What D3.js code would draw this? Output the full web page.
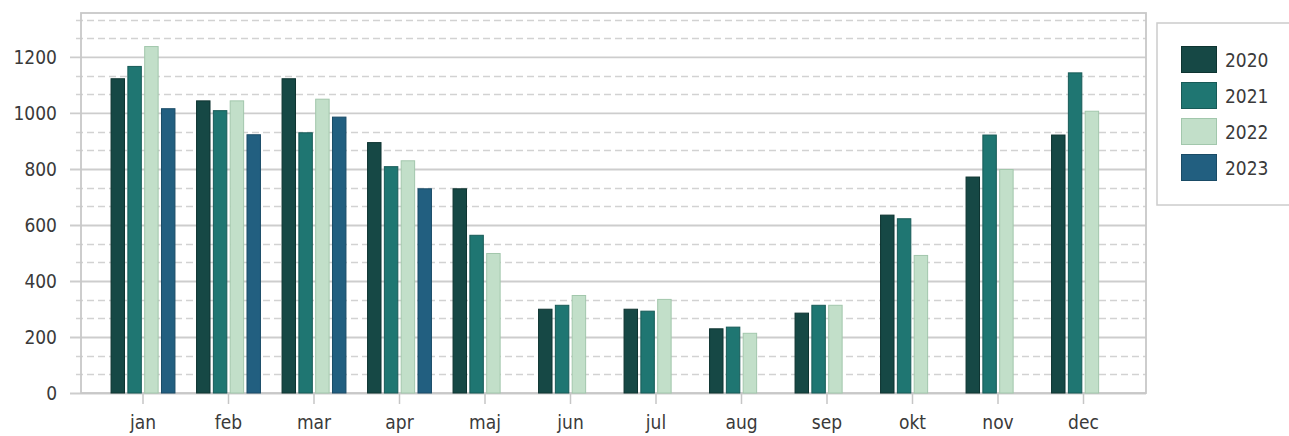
<!DOCTYPE html>
<html>
<head>
<meta charset="utf-8">
<script src="https://cdn.jsdelivr.net/npm/d3@7"></script>
<style>
  html, body { margin: 0; padding: 0; background: #ffffff; }
  svg { display: block; }
  text { font-family: "DejaVu Sans Condensed", "DejaVu Sans", sans-serif; fill: #3a3a3a; }
</style>
</head>
<body>
<svg id="chart" width="1289" height="436"></svg>
<script>
const months = ["jan","feb","mar","apr","maj","jun","jul","aug","sep","okt","nov","dec"];
const years = ["2020","2021","2022","2023"];
const v2020 = [1124, 1045, 1124, 896, 731, 301, 301, 231, 287, 637, 773, 923];
const v2021 = [1168, 1010, 931, 810, 565, 315, 294, 237, 315, 624, 923, 1145];
const v2022 = [1239, 1045, 1051, 831, 500, 350, 336, 215, 315, 493, 800, 1008];
const v2023 = [1017, 924, 987, 731, null, null, null, null, null, null, null, null];
const yTicks = [0, 200, 400, 600, 800, 1000, 1200];
const yMinor = [66.67, 133.33, 266.67, 333.33, 466.67, 533.33, 666.67, 733.33, 866.67, 933.33, 1066.67, 1133.33, 1266.67, 1333.33];

const seriesValues = [v2020, v2021, v2022, v2023];
const fills = ["#164845", "#1f7672", "#c2dfc9", "#225f80"];
const strokes = ["#0e3431", "#175a57", "#a2c7ac", "#1a4b66"];

const svg = d3.select("#chart");
const pLeft = 81, pRight = 1146, pTop = 13, pBottom = 393;

const y = d3.scaleLinear().domain([0, 1357]).range([pBottom, pTop]);
const x0 = d3.scaleBand().domain(months).range([100.25, 1126.25]).paddingInner(0).paddingOuter(0);
const groupW = 64.9;
const x1 = d3.scaleBand().domain(years).range([0, groupW]).paddingInner(0.14).paddingOuter(0);
const gOff = x0.bandwidth() / 2 - groupW / 2;

// minor dashed gridlines
svg.append("g").selectAll("line").data(yMinor).join("line")
  .attr("x1", 76).attr("x2", pRight)
  .attr("y1", d => Math.round(y(d)) + 0.5).attr("y2", d => Math.round(y(d)) + 0.5)
  .attr("stroke", "#d2d2d2").attr("stroke-width", 1.6).attr("stroke-dasharray", "7,4");

// major gridlines + y axis ticks via d3 axis
const yAxis = d3.axisLeft(y).tickValues(yTicks).tickSize(-(pRight - 70)).tickFormat(d3.format("d"));
const gy = svg.append("g").attr("transform", `translate(70,0)`).call(yAxis);
gy.select(".domain").remove();
gy.selectAll(".tick line").attr("stroke", "#cdcdcd").attr("stroke-width", 1.8);
gy.selectAll(".tick text").remove();
const gyl = svg.append("g").attr("transform", `translate(${pLeft},0)`)
  .call(d3.axisLeft(y).tickValues(yTicks).tickSize(0).tickPadding(24).tickFormat(d3.format("d")));
gyl.select(".domain").remove();
gyl.selectAll(".tick text").attr("font-size", 19).attr("fill", "#3a3a3a");

// frame
svg.append("rect").attr("x", pLeft).attr("y", pTop).attr("width", pRight - pLeft).attr("height", pBottom - pTop)
  .attr("fill", "none").attr("stroke", "#c8c8c8").attr("stroke-width", 1.8);

// bars
const groups = svg.append("g").selectAll("g").data(months).join("g")
  .attr("transform", m => `translate(${x0(m) + gOff},0)`);
groups.selectAll("rect")
  .data((m, i) => years.map((yr, s) => ({ yr, s, v: seriesValues[s][i] })).filter(d => d.v != null))
  .join("rect")
  .attr("x", d => x1(d.yr) + 0.5)
  .attr("width", x1.bandwidth() - 1)
  .attr("y", d => y(d.v) + 0.5)
  .attr("height", d => y(0) - y(d.v) - 0.5)
  .attr("fill", d => fills[d.s])
  .attr("stroke", d => strokes[d.s])
  .attr("stroke-width", 1);

// x axis
const xAxis = d3.axisBottom(x0).tickSize(11).tickPadding(12);
const gx = svg.append("g").attr("transform", `translate(0,${pBottom})`).call(xAxis);
gx.select(".domain").remove();
gx.selectAll(".tick line").attr("stroke", "#c6c6c6").attr("stroke-width", 1.5);
gx.selectAll(".tick text").attr("font-size", 19).attr("fill", "#3a3a3a");

// legend
const lg = svg.append("g");
lg.append("rect").attr("x", 1157).attr("y", 23).attr("width", 160).attr("height", 182)
  .attr("fill", "#fff").attr("stroke", "#cccccc").attr("stroke-width", 1.5);
const items = lg.selectAll("g.item").data(years).join("g").attr("class", "item")
  .attr("transform", (d, i) => `translate(1181,${46 + i * 36})`);
items.append("rect").attr("x", 0.5).attr("y", 0.5).attr("width", 35).attr("height", 26)
  .attr("fill", (d, i) => fills[i]).attr("stroke", (d, i) => strokes[i]);
items.append("text").attr("x", 44).attr("y", 14).attr("dy", "0.35em")
  .attr("font-size", 19).text(d => d);
</script>
</body>
</html>
